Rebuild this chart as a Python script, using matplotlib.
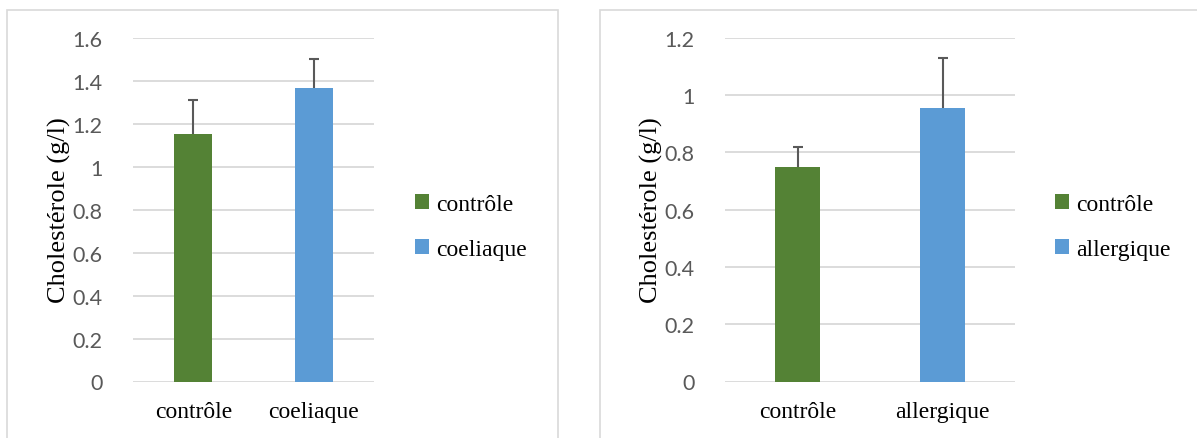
import matplotlib
matplotlib.use("Agg")
import matplotlib.pyplot as plt
from matplotlib.patches import Rectangle

# données
groupes_gauche = ["contrôle", "coeliaque"]
chol_gauche = [1.15, 1.365]
err_gauche = [0.16, 0.135]

groupes_droite = ["contrôle", "allergique"]
chol_droite = [0.75, 0.955]
err_droite = [0.07, 0.175]

couleurs = ["#548235", "#5B9BD5"]
gris_grille = "#d9d9d9"
gris_texte = "#595959"
serif = "Liberation Serif"
sans = "Lato"

fig = plt.figure(figsize=(11.97, 4.39), dpi=100)
W, H = 1197, 439


def fx(px):
    return px / W


def fy(py):
    return 1 - py / H


# cadres des deux graphiques
fig.patches.append(Rectangle((fx(7), fy(445)), fx(558 - 7), fy(11) - fy(445),
                             transform=fig.transFigure, fill=False,
                             edgecolor=gris_grille, lw=1.2))
fig.patches.append(Rectangle((fx(600), fy(445)), fx(1205 - 600), fy(11) - fy(445),
                             transform=fig.transFigure, fill=False,
                             edgecolor=gris_grille, lw=1.2))


def panneau(x0, x1, groupes, valeurs, erreurs, ymax, label_x, leg_x):
    ax = fig.add_axes([fx(x0), fy(382.5), fx(x1 - x0), fy(38.7) - fy(382.5)])
    pos = range(len(groupes))
    barres = []
    for i, (g, v, e) in enumerate(zip(groupes, valeurs, erreurs)):
        b = ax.bar(i, v, width=0.315, color=couleurs[i], label=g, zorder=3)
        _, caps, _ = ax.errorbar(i, v, yerr=[[0], [e]], fmt="none", ecolor=gris_texte,
                                 elinewidth=1.5, capsize=3.5, capthick=1.5, zorder=4)
        # on ne garde que le chapeau du haut
        caps[0].set_visible(False)
        barres.append(b)
    ax.set_xlim(-0.5, len(groupes) - 0.5)
    ax.set_ylim(0, ymax)
    ax.set_yticks([round(0.2 * k, 1) for k in range(int(round(ymax / 0.2)) + 1)])
    ax.set_yticklabels([("%g" % t) for t in ax.get_yticks()])
    ax.yaxis.grid(True, color=gris_grille, lw=1.3, zorder=0)
    ax.set_axisbelow(True)
    for s in ax.spines.values():
        s.set_visible(False)
    ax.tick_params(axis="both", length=0)
    ax.tick_params(axis="y", pad=22, labelcolor=gris_texte, labelsize=15.5)
    ax.set_xticks(list(pos))
    ax.set_xticklabels(groupes, fontfamily=serif, fontsize=17, color="black")
    ax.tick_params(axis="x", pad=14)
    for lab in ax.get_yticklabels():
        lab.set_fontfamily(sans)
    ax.set_ylabel("Cholestérole (g/l)", fontfamily=serif, fontsize=19)
    ax.yaxis.set_label_coords(label_x, 0.5)
    fig.legend(handles=barres, labels=groupes, loc="center left",
               bbox_to_anchor=(fx(leg_x), fy(228)), frameon=False,
               prop={"family": serif, "size": 17},
               handlelength=0.6, handleheight=0.6, handletextpad=0.3,
               labelspacing=1.0, borderaxespad=0, borderpad=0)
    return ax


panneau(133, 374, groupes_gauche, chol_gauche, err_gauche, 1.6, -0.257, 415)
panneau(725, 1015, groupes_droite, chol_droite, err_droite, 1.2, -0.214, 1055)

fig.savefig("out.png", dpi=100)
